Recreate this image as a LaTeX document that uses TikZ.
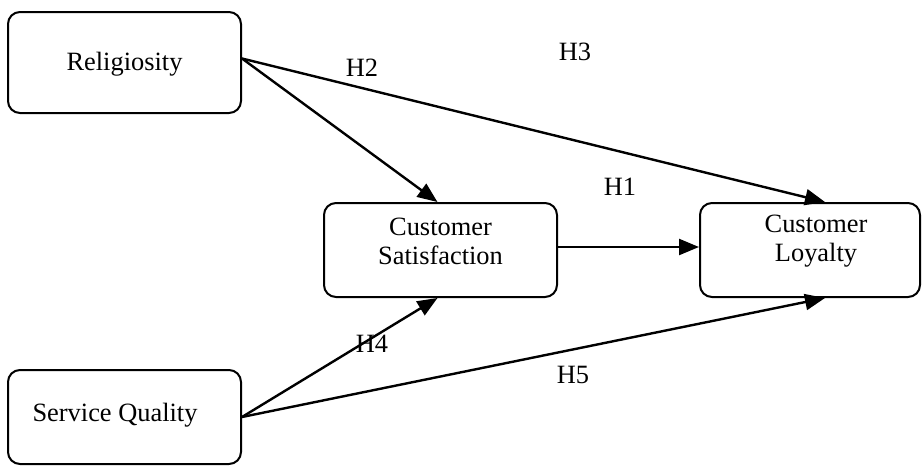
\documentclass[tikz,border=0pt]{standalone}
\usepackage{fontspec}
\setmainfont{Liberation Serif}
\usetikzlibrary{arrows.meta}
\begin{document}
\begin{tikzpicture}[x=0.5pt,y=-0.5pt,
  box/.style={draw,line width=1pt,rounded corners=6pt,inner sep=0pt},
  txt/.style={font=\fontsize{13.2}{14.5}\selectfont,align=center,inner sep=0pt},
  lab/.style={font=\fontsize{13.2}{14.5}\selectfont,inner sep=0pt},
  link/.style={line width=1.2pt,-{Triangle[length=10pt,width=8pt]}}]
\useasboundingbox (0,0) rectangle (922,467);
% boxes
\node[box,minimum width=116.5pt,minimum height=50.5pt] (rel) at (124.5,62.5) {};
\node[box,minimum width=116.5pt,minimum height=47pt] (cs) at (440.5,250) {};
\node[box,minimum width=110pt,minimum height=47pt] (cl) at (810,250) {};
\node[box,minimum width=116.5pt,minimum height=47pt] (sq) at (124.5,417) {};
% texts
\node[txt] (relt) at (124.5,64) {Religiosity};
\node[txt] (cst) at (440.5,241) {Customer\\Satisfaction};
\node[txt] (clt) at (816,241) {Customer\\Loyalty};
\node[txt] (sqt) at (115,415) {Service Quality};
% connectors
\coordinate (rs) at ([yshift=2pt]rel.east);
\draw[link] (rs) -- ([xshift=-1.5pt]cs.north);
\draw[link] (rs) -- ([xshift=7.5pt]cl.north);
\draw[link] ([yshift=1.5pt]cs.east) -- ([yshift=1.5pt]cl.west);
\draw[link] (sq.east) -- ([xshift=-1.5pt]cs.south);
\draw[link] (sq.east) -- ([xshift=7.5pt]cl.south);
% labels
\node[lab] (h2) at (362,68) {H2};
\node[lab] (h3) at (575,52) {H3};
\node[lab] (h1) at (620,187) {H1};
\node[lab] (h4) at (372,344) {H4};
\node[lab] (h5) at (573,375) {H5};
\end{tikzpicture}
\end{document}
